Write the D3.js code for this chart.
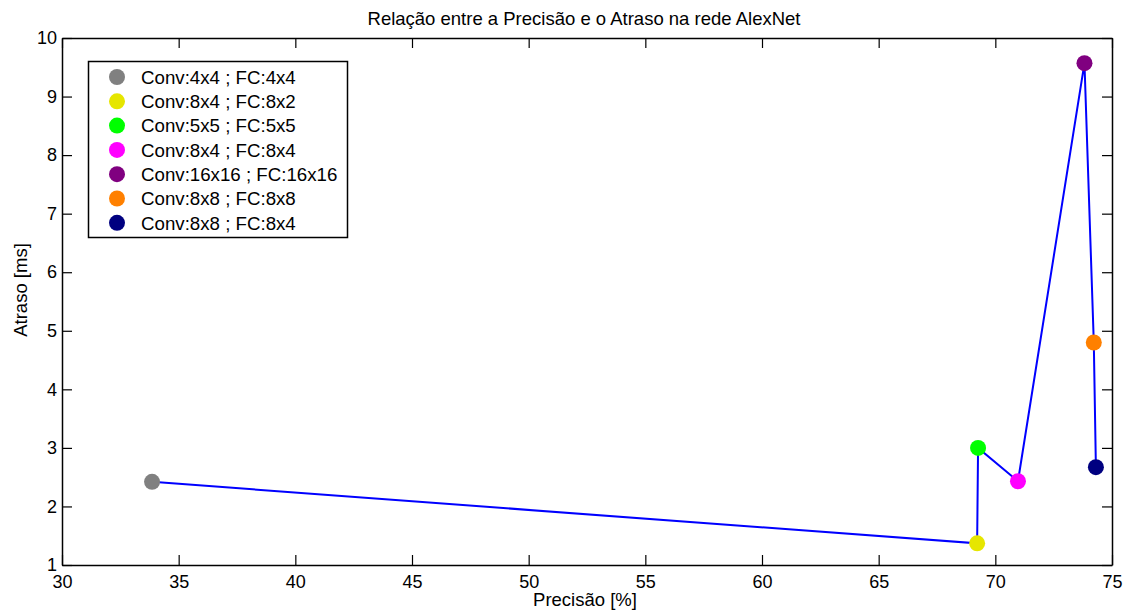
<!DOCTYPE html>
<html>
<head>
<meta charset="utf-8">
<script src="https://cdn.jsdelivr.net/npm/d3@7"></script>
<style>
  html, body { margin: 0; padding: 0; background: #fff; }
  svg { display: block; font-family: "Liberation Sans", Arial, sans-serif; }
</style>
</head>
<body>
<svg id="chart" width="1126" height="613"></svg>
<script>
// Accuracy vs. latency for AlexNet configurations
const configs = [
  "Conv:4x4 ; FC:4x4",
  "Conv:8x4 ; FC:8x2",
  "Conv:5x5 ; FC:5x5",
  "Conv:8x4 ; FC:8x4",
  "Conv:16x16 ; FC:16x16",
  "Conv:8x8 ; FC:8x8",
  "Conv:8x8 ; FC:8x4"
];
const precision = [33.86, 69.22, 69.26, 70.97, 73.82, 74.22, 74.31];
const latency   = [2.42, 1.37, 3.00, 2.43, 9.57, 4.80, 2.67];
const colors = ["#808080", "#e6e600", "#00ff00", "#ff00ff", "#800080", "#ff8000", "#000080"];
const xTicks = [30, 35, 40, 45, 50, 55, 60, 65, 70, 75];
const yTicks = [1, 2, 3, 4, 5, 6, 7, 8, 9, 10];

const svg = d3.select("#chart");
const m = { left: 62, right: 1112, top: 38, bottom: 565 };

const x = d3.scaleLinear().domain([30, 75]).range([m.left, m.right]);
const y = d3.scaleLinear().domain([1, 10]).range([m.bottom, m.top]);

const tickLen = 10;
const tickFont = 18;

// Box axes with inward ticks on all four sides
const g = svg.append("g");
g.append("g").attr("transform", `translate(0,${m.bottom})`)
  .call(d3.axisBottom(x).tickValues(xTicks).tickSize(-tickLen).tickPadding(10).tickSizeOuter(0));
g.append("g").attr("transform", `translate(0,${m.top})`)
  .call(d3.axisTop(x).tickValues(xTicks).tickSize(-tickLen).tickFormat("").tickSizeOuter(0));
g.append("g").attr("transform", `translate(${m.left},0)`)
  .call(d3.axisLeft(y).tickValues(yTicks).tickSize(-tickLen).tickPadding(5).tickSizeOuter(0));
g.append("g").attr("transform", `translate(${m.right},0)`)
  .call(d3.axisRight(y).tickValues(yTicks).tickSize(-tickLen).tickFormat("").tickSizeOuter(0));

g.selectAll(".domain").attr("stroke", "#000").attr("stroke-width", 1.5);
g.selectAll(".tick line").attr("stroke", "#000").attr("stroke-width", 1.2);
g.selectAll(".tick text").attr("font-size", tickFont).attr("fill", "#000")
  .attr("font-family", "'Liberation Sans', Arial, sans-serif");

// Connecting line through configurations in order
const pts = precision.map((p, i) => ({ p, l: latency[i], c: colors[i], name: configs[i] }));
svg.append("path")
  .datum(pts)
  .attr("fill", "none")
  .attr("stroke", "#0000ff")
  .attr("stroke-width", 2)
  .attr("d", d3.line().x(d => x(d.p)).y(d => y(d.l)));

svg.append("g").selectAll("circle")
  .data(pts)
  .join("circle")
  .attr("cx", d => x(d.p))
  .attr("cy", d => y(d.l))
  .attr("r", 8)
  .attr("fill", d => d.c);

// Title and axis labels
svg.append("text")
  .attr("x", 584).attr("y", 25)
  .attr("text-anchor", "middle").attr("font-size", 18.5)
  .text("Relação entre a Precisão e o Atraso na rede AlexNet");

svg.append("text")
  .attr("x", 585).attr("y", 606)
  .attr("text-anchor", "middle").attr("font-size", 18.5)
  .text("Precisão [%]");

svg.append("text")
  .attr("transform", `translate(27,290) rotate(-90)`)
  .attr("text-anchor", "middle").attr("font-size", 18.5)
  .text("Atraso [ms]");

// Legend
const lg = svg.append("g");
lg.append("rect")
  .attr("x", 88.5).attr("y", 61.5).attr("width", 259).attr("height", 176)
  .attr("fill", "#fff").attr("stroke", "#000").attr("stroke-width", 1.5);
const rowH = 24.3;
const rows = lg.selectAll("g.row").data(pts).join("g")
  .attr("class", "row")
  .attr("transform", (d, i) => `translate(0,${77 + i * rowH})`);
rows.append("circle").attr("cx", 117).attr("cy", 0).attr("r", 8).attr("fill", d => d.c);
rows.append("text").attr("x", 141).attr("y", 0).attr("dy", "0.36em")
  .attr("font-size", 18.7).text(d => d.name);
</script>
</body>
</html>
